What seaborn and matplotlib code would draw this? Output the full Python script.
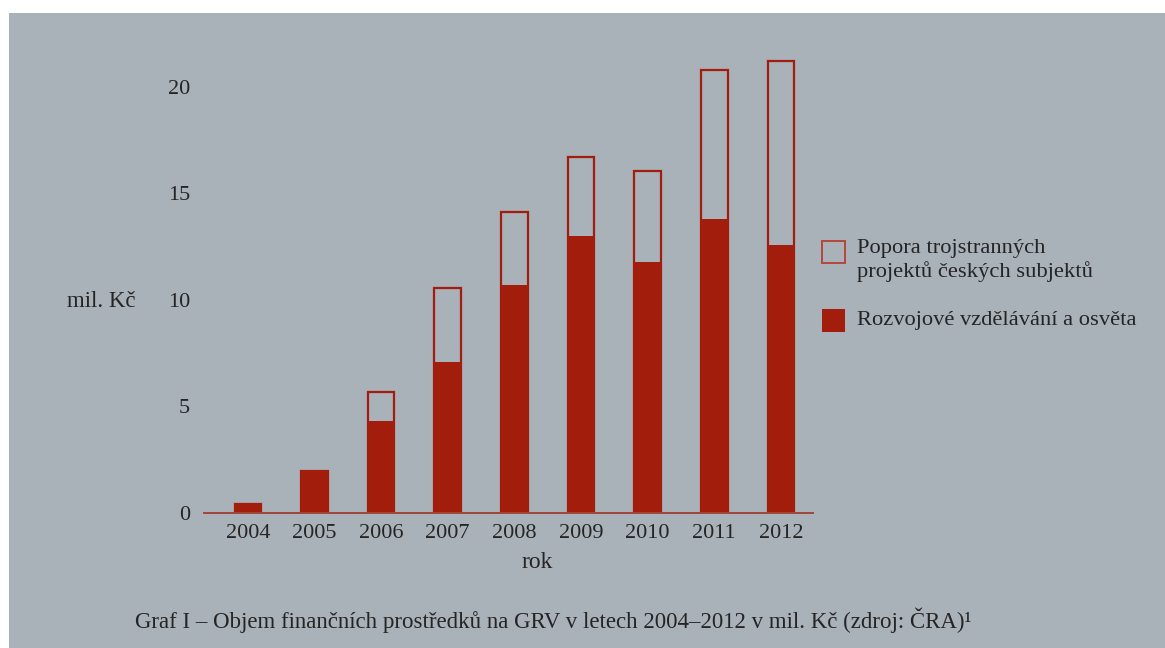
import pandas as pd
import matplotlib.pyplot as plt
import seaborn as sns
from matplotlib.patches import Rectangle

# Hodnoty (mil. Kč)
years = ['2004', '2005', '2006', '2007', '2008', '2009', '2010', '2011', '2012']
rozvojove = [0.42, 1.96, 4.3, 7.07, 10.69, 13.0, 11.78, 13.8, 12.58]
trojstranne = [0.0, 0.0, 1.37, 3.49, 3.43, 3.7, 4.29, 6.97, 8.65]
y_ticks = [0, 5, 10, 15, 20]

label_troj = 'Popora trojstranných\nprojektů českých subjektů'
label_rozv = 'Rozvojové vzdělávání a osvěta'
caption = 'Graf I – Objem finančních prostředků na GRV v letech 2004–2012 v mil. Kč (zdroj: ČRA)¹'

df = pd.DataFrame({'rok': years, 'rozvojove': rozvojove, 'trojstranne': trojstranne})
df['celkem'] = df['rozvojove'] + df['trojstranne']

bg = '#a9b1b9'
red = '#a31d0c'
txt = '#262525'

sns.set_style('white')
plt.rcParams['font.family'] = ['Liberation Serif', 'DejaVu Serif']

W, H = 1165, 648
fig = plt.figure(figsize=(11.65, 6.48), dpi=100, facecolor='white')
# fotografovana stranka (bily okraj nahore a vlevo)
fig.add_artist(Rectangle((9 / W, 0), 1, (H - 13) / H, transform=fig.transFigure,
                         facecolor=bg, edgecolor='none', zorder=-10))

ax = fig.add_axes([0.175, 0.2083, 0.5227, 0.707])
ax.set_facecolor('none')

# celkova vyska (obrys), pak plna cast
sns.barplot(data=df, x='rok', y='celkem', order=years, fill=False, color=red,
            width=0.4, linewidth=1.6, ax=ax)
for p in ax.patches:
    p.set_edgecolor(red)
sns.barplot(data=df, x='rok', y='rozvojove', order=years, color=red,
            saturation=1, width=0.4, linewidth=0, ax=ax)

ax.set_xlim(-0.66, 8.48)
ax.set_ylim(0, 21.5)
ax.set_yticks(y_ticks)
ax.set_yticklabels([str(t) for t in y_ticks])

for s in ['left', 'top', 'right']:
    ax.spines[s].set_visible(False)
ax.spines['bottom'].set_color('#a0463a')
ax.spines['bottom'].set_linewidth(1.4)

ax.tick_params(axis='both', length=0, labelsize=16, colors=txt)
ax.tick_params(axis='y', pad=10)
ax.tick_params(axis='x', pad=8)

ax.set_xlabel('rok', fontsize=17, color=txt)
ax.xaxis.set_label_coords(0.547, -0.085)
ax.set_ylabel('mil. Kč', fontsize=16.5, color=txt, rotation=0, ha='right', va='center')
ax.yaxis.set_label_coords(-0.113, 0.461)

# legenda
fig.add_artist(Rectangle((822 / W, (H - 263) / H), 23 / W, 22 / H, transform=fig.transFigure,
                         facecolor='none', edgecolor='#b5473c', linewidth=1.4))
fig.add_artist(Rectangle((822 / W, (H - 332) / H), 23 / W, 23 / H, transform=fig.transFigure,
                         facecolor=red, edgecolor='none'))
fig.text(857 / W, (H - 239) / H, label_troj, fontsize=16.2, color=txt, va='top', ha='left',
         linespacing=1.22)
fig.text(857 / W, (H - 320) / H, label_rozv, fontsize=16.2, color=txt, va='center', ha='left')

fig.text(135 / W, (H - 620) / H, caption, fontsize=16.5, color=txt, va='center', ha='left')

plt.savefig('out.png', dpi=100, facecolor='white')
